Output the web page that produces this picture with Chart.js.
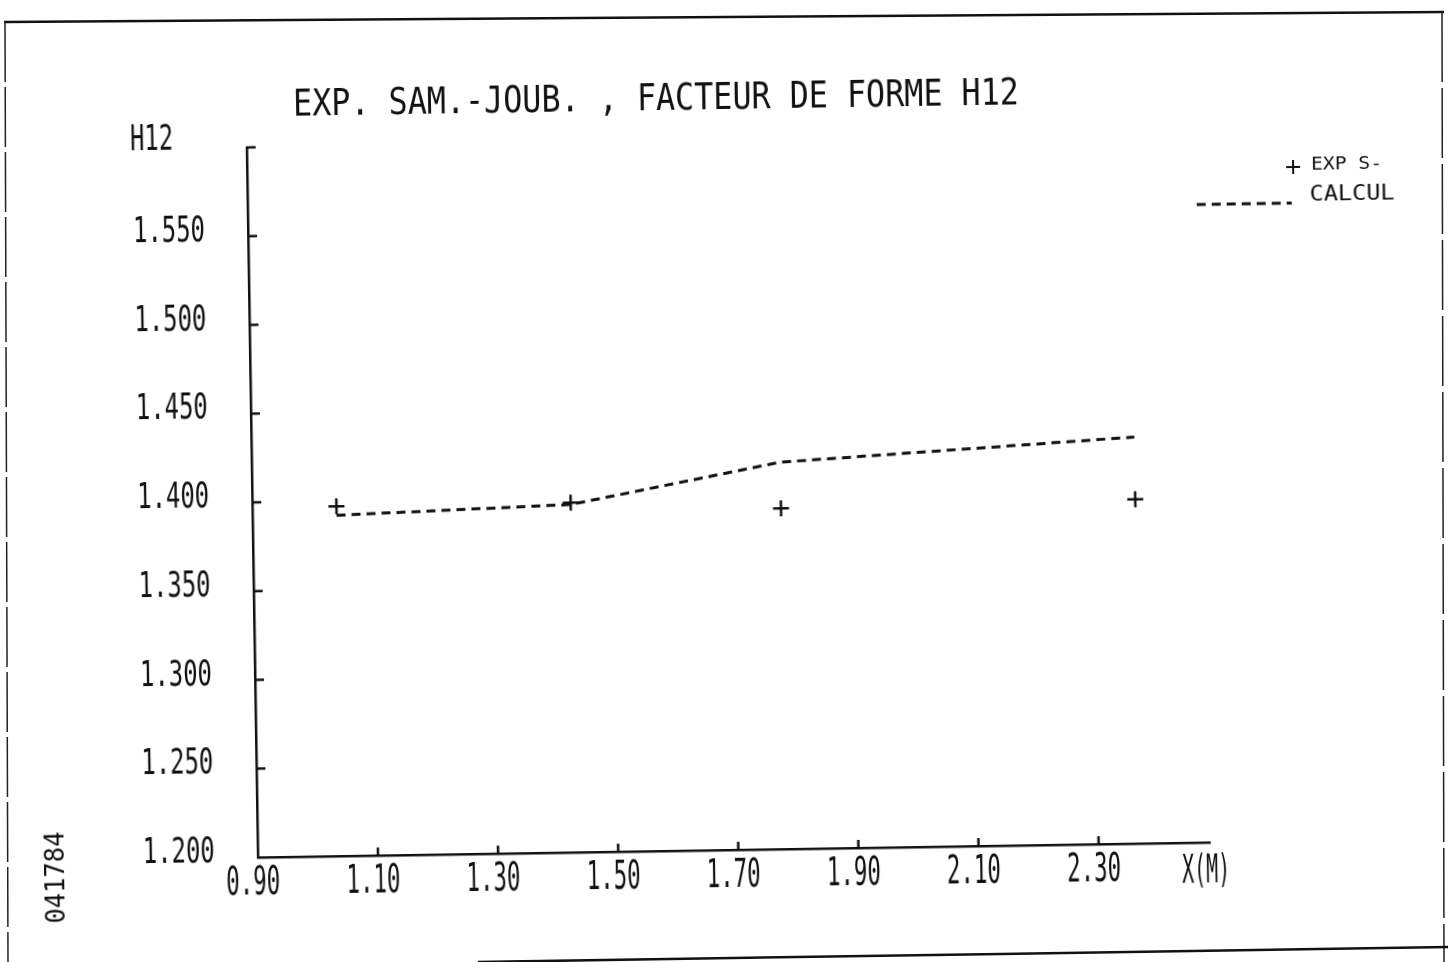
<!DOCTYPE html>
<html>
<head>
<meta charset="utf-8">
<title>EXP. SAM.-JOUB. , FACTEUR DE FORME H12</title>
<script src="https://cdn.jsdelivr.net/npm/chart.js@4.4.1/dist/chart.umd.min.js"></script>
<style>
  html, body { margin: 0; padding: 0; background: #fff; width: 1448px; height: 962px; overflow: hidden; }
  #sheet { position: absolute; left: 0; top: 0; }
  #plot { position: absolute; left: 0; top: 0; width: 1448px; height: 962px;
          transform: rotate(-0.9deg); transform-origin: 724px 481px; }
</style>
</head>
<body>
<!-- sheet border of the plotter page -->
<svg id="sheet" width="1448" height="962">
  <line x1="4" y1="22" x2="1444" y2="12" stroke="#111" stroke-width="2.5"/>
  <line x1="5" y1="22" x2="8" y2="962" stroke="#222" stroke-width="1.5" stroke-dasharray="60 5"/>
  <line x1="1442" y1="12" x2="1444" y2="962" stroke="#222" stroke-width="1.5" stroke-dasharray="70 6"/>
  <line x1="478" y1="962" x2="1448" y2="947" stroke="#111" stroke-width="2.5"/>
</svg>
<div id="plot"><canvas id="c" width="1448" height="962"></canvas></div>
<script>
// Stations along the plate, X in metres
const stations = [1.04, 1.43, 1.78, 2.37];
// Shape factor H12: measurements (EXP S-) and computation (CALCUL)
const expS   = [1.397, 1.397, 1.392, 1.394];
const calcul = [1.392, 1.396, 1.418, 1.429];

// Axis graduations
const xTicks  = [0.90, 1.10, 1.30, 1.50, 1.70, 1.90, 2.10, 2.30];
const xLabels = ['0.90', '1.10', '1.30', '1.50', '1.70', '1.90', '2.10', '2.30'];
const yTicks  = [1.200, 1.250, 1.300, 1.350, 1.400, 1.450, 1.500, 1.550];
const yLabels = ['1.200', '1.250', '1.300', '1.350', '1.400', '1.450', '1.500', '1.550'];
const xRange  = [0.90, 2.485];
const yRange  = [1.200, 1.600];

const titleText = 'EXP. SAM.-JOUB. , FACTEUR DE FORME H12';
const xTitle = 'X(M)';
const yTitle = 'H12';
const plotId = '041784';

const INK = '#111';
const FONT = '"DejaVu Sans Mono", "Liberation Mono", monospace';

// Plotter-style lettering: monospace glyphs squeezed to the pen's cell width
function letter(ctx, text, x, yCenter, capH, width, align) {
  const size = capH / 0.73;
  ctx.font = size + 'px ' + FONT;
  const natural = ctx.measureText(text).width;
  const sx = width / natural;
  ctx.save();
  ctx.translate(x, yCenter + capH / 2);
  ctx.scale(sx, 1);
  ctx.textAlign = align;
  ctx.textBaseline = 'alphabetic';
  ctx.fillStyle = INK;
  ctx.fillText(text, 0, 0);
  ctx.restore();
}

function seg(ctx, x1, y1, x2, y2) {
  ctx.beginPath(); ctx.moveTo(x1, y1); ctx.lineTo(x2, y2); ctx.stroke();
}

const plotterDecor = {
  id: 'plotterDecor',
  afterDraw(chart) {
    const ctx = chart.ctx;
    const xs = chart.scales.x, ys = chart.scales.y;
    ctx.save();
    ctx.strokeStyle = INK;
    ctx.lineWidth = 2.5;
    ctx.lineCap = 'butt';

    // inner tick marks
    xTicks.forEach(v => {
      if (v <= xs.min) return;
      const px = xs.getPixelForValue(v);
      seg(ctx, px, ys.bottom, px, ys.bottom - 8);
    });
    yTicks.concat([yRange[1]]).forEach(v => {
      if (v <= ys.min) return;
      const py = ys.getPixelForValue(v);
      seg(ctx, xs.left, py, xs.left + 9, py);
    });

    // graduations
    yTicks.forEach((v, i) => {
      const py = ys.getPixelForValue(v);
      letter(ctx, yLabels[i], xs.left - 43, py - 9, 26, 14.4 * yLabels[i].length, 'right');
    });
    xTicks.forEach((v, i) => {
      const px = xs.getPixelForValue(v);
      letter(ctx, xLabels[i], px - 5, ys.bottom + 22.5, 29, 13.5 * xLabels[i].length, 'center');
    });

    // axis names
    letter(ctx, xTitle, xs.right - 4, ys.bottom + 25.5, 28, 48, 'center');
    letter(ctx, yTitle, xs.left - 95, ys.top - 12, 26, 43, 'center');

    // title
    letter(ctx, titleText, 662, 95.5, 27, 19.1 * titleText.length, 'center');

    // key
    const dsExp = chart.data.datasets[0], dsCal = chart.data.datasets[1];
    ctx.lineWidth = 2;
    seg(ctx, 1291, 176, 1305, 176);
    seg(ctx, 1298, 169, 1298, 183);
    letter(ctx, dsExp.label, 1316, 172, 13, 71, 'left');
    ctx.lineWidth = dsCal.borderWidth;
    ctx.setLineDash(dsCal.borderDash);
    seg(ctx, 1201, 212, 1296, 212);
    ctx.setLineDash([]);
    letter(ctx, dsCal.label, 1314, 202, 15, 85, 'left');

    // plot number, written along the left margin
    ctx.save();
    ctx.translate(48, 867);
    ctx.rotate(-Math.PI / 2);
    letter(ctx, plotId, 0, 0, 19, 92, 'center');
    ctx.restore();

    ctx.restore();
  }
};

new Chart(document.getElementById('c'), {
  type: 'scatter',
  data: {
    datasets: [
      {
        label: 'EXP S-',
        data: stations.map((x, i) => ({ x, y: expS[i] })),
        showLine: false,
        pointStyle: 'cross',
        pointRadius: 8,
        pointHoverRadius: 8,
        borderColor: INK,
        backgroundColor: INK,
        pointBorderWidth: 2.5,
        borderWidth: 2.5
      },
      {
        label: 'CALCUL',
        data: stations.map((x, i) => ({ x, y: calcul[i] })),
        showLine: true,
        borderColor: INK,
        borderWidth: 3,
        borderDash: [9, 6],
        tension: 0,
        pointRadius: 0,
        pointHoverRadius: 0,
        fill: false
      }
    ]
  },
  options: {
    responsive: false,
    animation: false,
    devicePixelRatio: 1,
    events: [],
    layout: { padding: { left: 252, right: 244, top: 140, bottom: 112 } },
    plugins: {
      legend: { display: false },
      title: { display: false },
      tooltip: { enabled: false }
    },
    scales: {
      x: {
        type: 'linear',
        min: xRange[0],
        max: xRange[1],
        ticks: { display: false },
        grid: { display: true, drawOnChartArea: false, drawTicks: false },
        border: { display: true, color: INK, width: 2.5 },
        afterFit: s => { s.height = 0; }
      },
      y: {
        type: 'linear',
        min: yRange[0],
        max: yRange[1],
        ticks: { display: false },
        grid: { display: true, drawOnChartArea: false, drawTicks: false },
        border: { display: true, color: INK, width: 2.5 },
        afterFit: s => { s.width = 0; }
      }
    }
  },
  plugins: [plotterDecor]
});
</script>
</body>
</html>
